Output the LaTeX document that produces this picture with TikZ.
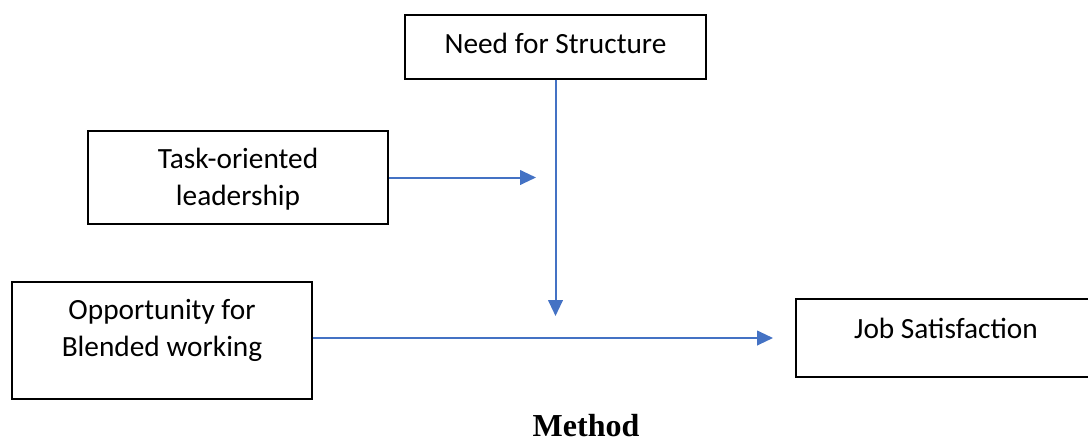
\documentclass[tikz,border=0pt]{standalone}
\usepackage{fontspec}
\setmainfont{Carlito}
\newfontfamily\titlefont{Liberation Serif}
\usetikzlibrary{arrows.meta}
\definecolor{linkblue}{RGB}{68,114,196}
\tikzset{every picture/.style={line width=0.75pt}}

\begin{document}
\begin{tikzpicture}[x=0.75pt,y=0.75pt,yscale=-1,xscale=1,
	varbox/.style={draw=black,line width=1.1pt,inner sep=0pt,align=center,font=\fontsize{22}{27.5}\selectfont},
	link/.style={draw=linkblue,line width=1.5pt,-{Triangle[length=12pt,width=11pt]}}]
		\useasboundingbox (0,0) rectangle (1088,443);
		
		%boxes
		\node [varbox,minimum width=225.75pt,minimum height=48pt,text height=15pt,text depth=6pt] (need) at (555.5,47) {Need for Structure};
		\node [varbox,minimum width=225pt,minimum height=69.75pt,text depth=1pt] (task) at (238,177.5) {Task-oriented\\leadership};
		\node [varbox,minimum width=225pt,minimum height=87.75pt,text depth=19pt] (opp) at (162,340.5) {Opportunity for\\Blended working};
		%right side runs past the page edge
		\node [varbox,minimum width=246pt,minimum height=58.5pt,text height=15pt,text depth=15pt] (job) at (960,338) {Job Satisfaction\hspace*{21pt}};
		
		%arrow ends
		\coordinate (taskend) at (536,177.5);
		\coordinate (needend) at (555.5,316);
		\coordinate (oppend) at (773,338);
		
		\draw [link] (task.east) -- (taskend);
		\draw [link] (need.south) -- (needend);
		\draw [link] (oppend -| opp.east) -- (oppend);
		
		\node [font=\titlefont\bfseries\fontsize{24}{28}\selectfont,inner sep=0pt] (method) at (586,426) {Method};
		
\end{tikzpicture}
\end{document}
